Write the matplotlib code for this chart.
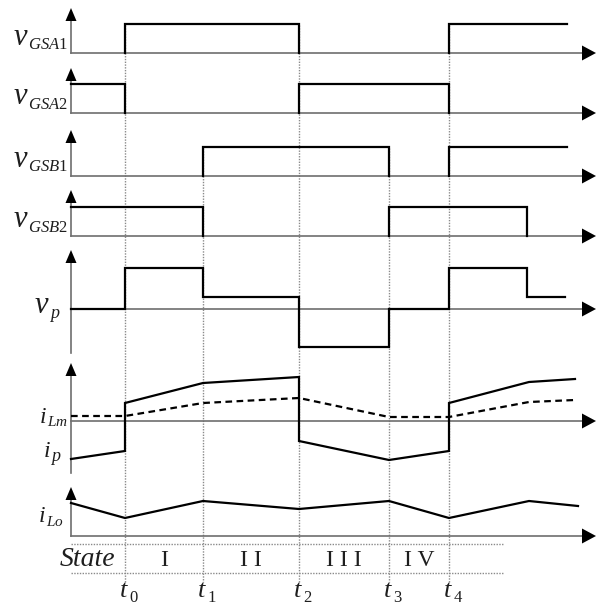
import matplotlib
matplotlib.use("Agg")
import matplotlib.pyplot as plt

plt.rcParams['mathtext.fontset'] = 'custom'
plt.rcParams['mathtext.rm'] = 'Liberation Serif'
plt.rcParams['mathtext.it'] = 'Liberation Serif:italic'
plt.rcParams['font.family'] = ['Liberation Serif', 'DejaVu Serif']

# ---- data (time axis in diagram units) ----
t_axis = 71
t_events = [125, 203, 299, 389, 449]
t_subs = ['0', '1', '2', '3', '4']
states = ['I', 'I I', 'I I I', 'I V']

gate_h = 29
# pulses (start, end, has_falling_edge)
vgsa1_pulses = [(125, 299, True), (449, 567, False)]
vgsa2_pulses = [(71, 125, True), (299, 449, True)]
vgsb1_pulses = [(203, 389, True), (449, 567, False)]
vgsb2_pulses = [(71, 203, True), (389, 527, True)]

vp_t = [71, 125, 125, 203, 203, 299, 299, 389, 389, 449, 449, 527, 527, 565]
vp_v = [0, 0, 41, 41, 12, 12, -38, -38, 0, 0, 41, 41, 12, 12]

ip_t = [71, 125, 125, 203, 299, 299, 389, 449, 449, 529, 575]
ip_v = [-38, -30, 18, 38, 44, -20, -39, -30, 18, 39, 42]

ilm_t = [71, 125, 203, 299, 389, 449, 529, 575]
ilm_v = [5, 5, 18, 23, 4, 4, 19, 21]

ilo_t = [71, 125, 203, 299, 389, 449, 529, 578]
ilo_v = [33, 18, 35, 27, 35, 18, 35, 30]

# (main symbol, subscript)
row_labels = [('v', r'GSA\mathrm{1}'), ('v', r'GSA\mathrm{2}'), ('v', r'GSB\mathrm{1}'),
              ('v', r'GSB\mathrm{2}'), ('v', 'p'), ('i', 'Lm'), ('i', 'p'), ('i', 'Lo')]

# ---- layout ----
W, H = 596, 609
fig = plt.figure(figsize=(W / 100, H / 100), dpi=100)
ax = fig.add_axes([0, 0, 1, 1])
ax.set_xlim(0, W)
ax.set_ylim(H, 0)
ax.axis('off')
renderer = fig.canvas.get_renderer()

base = {'a1': 53, 'a2': 113, 'b1': 176, 'b2': 236, 'vp': 309, 'ip': 421, 'ilo': 536}
yaxis = {'a1': (8, 53), 'a2': (68, 113), 'b1': (130, 176), 'b2': (190, 236),
         'vp': (250, 353), 'ip': (363, 473), 'ilo': (487, 536)}
x_tip = 596
AX_C = '#6e6e6e'
WLW = 1.6
TXT = '#1e1e1e'

def up_arrow(x, tip):
    ax.fill([x - 5.5, x + 5.5, x], [tip + 13, tip + 13, tip], color='black', lw=0, zorder=5)

def right_arrow(y):
    ax.fill([x_tip - 14, x_tip - 14, x_tip], [y - 7.5, y + 7.5, y], color='black', lw=0, zorder=5)

for k in base:
    y0, y1 = yaxis[k]
    ax.plot([t_axis, t_axis], [y0 + 10, y1], color=AX_C, lw=1.2, zorder=3)
    up_arrow(t_axis, y0)
    ax.plot([t_axis, x_tip - 12], [base[k], base[k]], color=AX_C, lw=1.2, zorder=3)
    right_arrow(base[k])

# vertical dotted guide lines
guide_top = [25, 148, 25, 148, 25]
for t, top in zip(t_events, guide_top):
    ax.plot([t, t], [top, 582], color='#8a8a8a', lw=1.0, ls=(0, (1, 1)), zorder=1)

# gate pulses
def pulses(plist, y0):
    for s, e, fall in plist:
        xs, ys = [], []
        if s > t_axis:
            xs += [s]; ys += [y0]
        xs += [s, e]; ys += [y0 - gate_h, y0 - gate_h]
        if fall:
            xs += [e]; ys += [y0]
        ax.plot(xs, ys, color='black', lw=WLW, zorder=4, solid_joinstyle='miter')

pulses(vgsa1_pulses, base['a1'])
pulses(vgsa2_pulses, base['a2'])
pulses(vgsb1_pulses, base['b1'])
pulses(vgsb2_pulses, base['b2'])

ax.plot(vp_t, [base['vp'] - v for v in vp_v], color='black', lw=WLW, zorder=4, solid_joinstyle='miter')
ax.plot(ip_t, [base['ip'] - v for v in ip_v], color='black', lw=WLW, zorder=4, solid_joinstyle='miter')
ax.plot(ilm_t, [base['ip'] - v for v in ilm_v], color='black', lw=1.6, ls=(0, (3, 2)), zorder=4)
ax.plot(ilo_t, [base['ilo'] - v for v in ilo_v], color='black', lw=WLW, zorder=4)

def label(x, yb, main, msize, sub, ssize, dy, anchor='right'):
    """main symbol + subscript; yb = baseline of main symbol (pixels, downwards)."""
    if anchor == 'right':
        st = ax.text(x, yb + dy, '$' + sub + '$', ha='right', va='baseline',
                     fontsize=ssize, color=TXT)
        w = st.get_window_extent(renderer).width
        ax.text(x - w, yb, '$' + main + '$', ha='right', va='baseline',
                fontsize=msize, color=TXT)
    else:
        mt = ax.text(x, yb, '$' + main + '$', ha='left', va='baseline',
                     fontsize=msize, color=TXT)
        w = mt.get_window_extent(renderer).width
        ax.text(x + w, yb + dy, '$' + sub + '$', ha='left', va='baseline',
                fontsize=ssize, color=TXT)

# label placement: (right x, main baseline, main size, sub size, sub drop)
lab_pos = [(68, 45, 22, 12, 4), (68, 104, 22, 12, 5), (68, 167, 22, 12, 4),
           (68, 227, 22, 12, 5), (61, 313, 22, 13, 5), (68, 423, 17, 11, 3),
           (62, 457, 17, 13, 4), (64, 522, 17, 11, 4)]
for (m, s), (x, yb, ms, ss, dy) in zip(row_labels, lab_pos):
    label(x, yb, m, ms, s, ss, dy)

# state table
for y in (544, 573):
    ax.plot([71, 503], [y, y], color='#8a8a8a', lw=1.0, ls=(0, (1, 1)), zorder=1)
ax.text(87, 566, 'State', ha='center', va='baseline', fontsize=20, style='italic', color=TXT)
for i, s in enumerate(states):
    cx = (t_events[i] + t_events[i + 1]) / 2
    ax.text(cx, 566, s, ha='center', va='baseline', fontsize=17, color=TXT)

for t, s in zip(t_events, t_subs):
    label(t - 6, 597, 't', 19, r'\mathrm{' + s + '}', 12, 5, anchor='left')

fig.savefig('out.png', dpi=100)
